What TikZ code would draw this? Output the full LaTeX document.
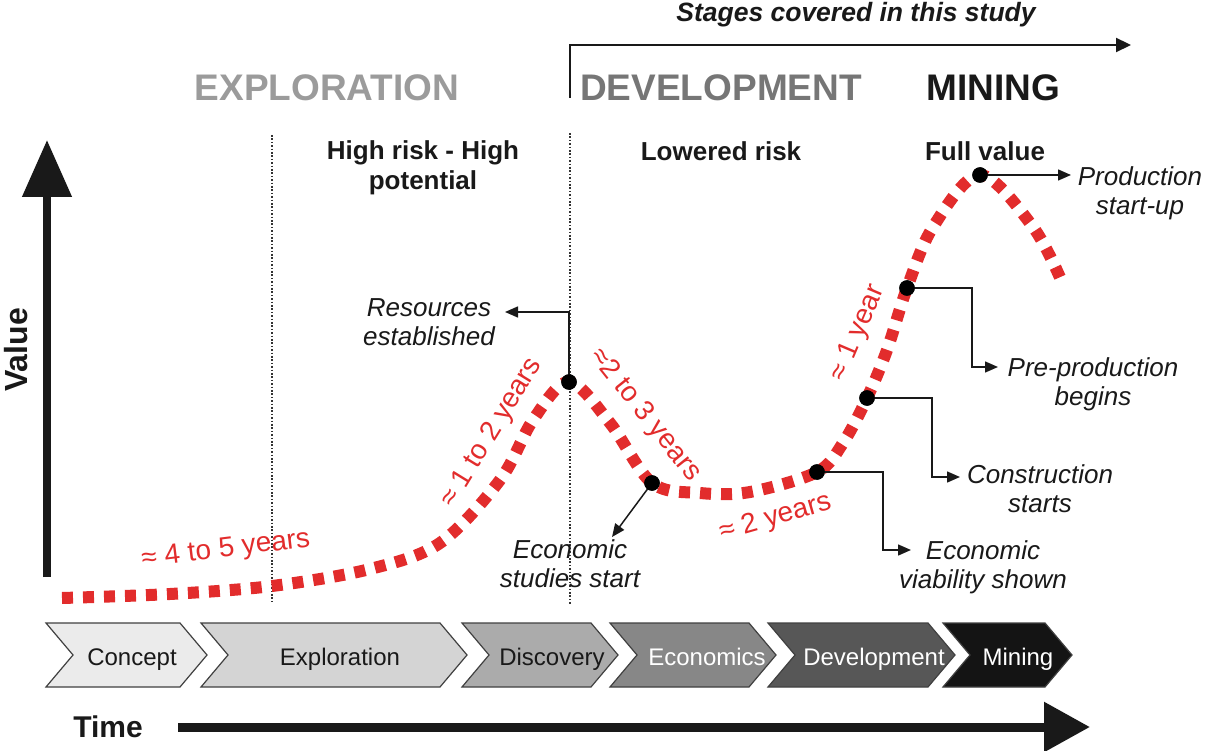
\documentclass[tikz,border=0pt]{standalone}
\usepackage{fontspec}
\setmainfont{Liberation Sans}
\usetikzlibrary{arrows.meta}
\definecolor{cred}{RGB}{226,44,44}
\definecolor{expgray}{RGB}{155,155,155}
\definecolor{devgray}{RGB}{118,118,118}
\definecolor{txtblack}{RGB}{25,25,25}
\newcommand\mychev[7]{%
  \fill[#4, draw=black!75, line width=1.2pt] (#2,623) -- (#3-27,623) -- (#3,655) -- (#3-27,687) -- (#2,687) -- (#2+27,655) -- cycle;
  \node[chevtext, text=#5] (#1) at (#7,665) {#6};
}
\begin{document}
\begin{tikzpicture}[x=1pt,y=-1pt,
  lbl/.style={font=\fontsize{26}{29}\selectfont\itshape, align=center, inner sep=0, anchor=base, text=txtblack},
  sub/.style={font=\fontsize{26}{30}\selectfont\bfseries, align=center, inner sep=0, anchor=base, text=txtblack},
  head/.style={font=\fontsize{37}{40}\selectfont\bfseries, inner sep=0, anchor=base},
  chevtext/.style={font=\fontsize{24}{26}\selectfont, inner sep=0, anchor=base},
  redlbl/.style={font=\fontsize{28}{30}\selectfont, text=cred, inner sep=0},
  vline/.style={line width=1.3pt, black!80, dash pattern=on 1.6pt off 1.8pt},
  redcurve/.style={cred, line width=12pt, dash pattern=on 11pt off 10pt},
  dot/.style={circle, fill=black, inner sep=0, minimum size=15.5pt},
  conn/.style={line width=1.5pt, black!90, -{Triangle[length=13pt,width=11pt]}},
]
\useasboundingbox (0,0) rectangle (1205,751);

% dotted dividers
\draw[vline] (272,135) -- (272,602);
\draw[vline] (570,133) -- (570,605);

% title and bracket arrow
\node[font=\fontsize{26.5}{28}\selectfont\bfseries\itshape, inner sep=0, anchor=base, text=txtblack] (study) at (856,22) {Stages covered in this study};
\draw[line width=2.2pt, black!90, -{Triangle[length=15pt,width=14pt]}] (570,98) -- (570,45) -- (1131,45);

% headers
\node[head, text=expgray] (hexp) at (327,101) {EXPLORATION};
\node[head, text=devgray] (hdev) at (721,101) {DEVELOPMENT};
\node[head, text=txtblack] (hmin) at (993,101) {MINING};

\node[sub] (risk1) at (423,190) {High risk - High\\potential};
\node[sub] (risk2) at (721,161) {Lowered risk};
\node[sub] (risk3) at (985,161) {Full value};

% axes
\draw[line width=8pt, txtblack, -{Triangle[length=57pt,width=48pt]}] (47,577) -- (47,140);
\node[font=\fontsize{32}{34}\selectfont\bfseries, rotate=90, inner sep=0, text=txtblack] (value) at (16,350) {Value};
\draw[line width=9pt, txtblack, -{Triangle[length=46pt,width=48pt]}] (178,727) -- (1090,727);
\node[font=\fontsize{30}{32}\selectfont\bfseries, inner sep=0, anchor=base, text=txtblack] (time) at (108,737) {Time};

% red value curve
\draw[redcurve] plot[smooth, tension=0.55] coordinates {(62,598) (170,594) (272,586) (370,569) (440,543) (500,480) (533,420) (569,382) (610,423) (652,483) (700,493) (750,492) (817,472) (843,443) (867,398) (887,350) (907,288) (933,227) (980,175) (1033,227) (1062,282)};

% milestones
\node[dot] (d1) at (569,382) {};
\node[dot] (d2) at (652,483) {};
\node[dot] (d3) at (817,472) {};
\node[dot] (d4) at (867,398) {};
\node[dot] (d5) at (907,288) {};
\node[dot] (d6) at (980,175) {};

% milestone labels (anchor = baseline of last line)
\node[lbl] (l1) at (429,345) {Resources\\established};
\node[lbl] (l2) at (570,587) {Economic\\studies start};
\node[lbl] (l3) at (983,588) {Economic\\viability shown};
\node[lbl] (l4) at (1040,512) {Construction\\starts};
\node[lbl] (l5) at (1093,405) {Pre-production\\begins};
\node[lbl] (l6) at (1140,215) {Production\\start-up};

\coordinate (t1) at (505,312);
\coordinate (t2) at (612,537);
\coordinate (t3) at (911,550);
\coordinate (t4) at (960,477);
\coordinate (t5) at (998,367);
\coordinate (t6) at (1071,175);
\draw[conn] (d1.center) |- (t1);
\draw[conn] (d2.center) -- (t2);
\draw[conn] (d3.center) -- (883,472) |- (t3);
\draw[conn] (d4.center) -- (932,398) |- (t4);
\draw[conn] (d5.center) -- (972,288) |- (t5);
\draw[conn] (d6.center) -- (t6);
\node[dot] at (d1) {};
\node[dot] at (d2) {};
\node[dot] at (d3) {};
\node[dot] at (d4) {};
\node[dot] at (d5) {};
\node[dot] at (d6) {};

% duration labels
\node[redlbl, rotate=7] (r1) at (226,550) {≈ 4 to 5 years};
\node[redlbl, rotate=58.5] (r2) at (492,433) {≈ 1 to 2 years};
\node[redlbl, rotate=-51.5] (r3) at (645,415) {≈2 to 3 years};
\node[redlbl, rotate=16] (r4) at (776,518) {≈ 2 years};
\node[redlbl, rotate=67] (r5) at (858,333) {≈ 1 year};

% stage chevrons
\mychev{cconcept}{46}{207}{black!8}{txtblack}{Concept}{132}
\mychev{cexpl}{201}{467}{black!17}{txtblack}{Exploration}{340}
\mychev{cdisc}{462}{618}{black!33}{txtblack}{Discovery}{552}
\mychev{cecon}{610}{776}{black!47}{white}{Economics}{707}
\mychev{cdev}{768}{955}{black!66}{white}{Development}{874}
\mychev{cmin}{943}{1072}{black!92}{white}{Mining}{1018}
\end{tikzpicture}
\end{document}
